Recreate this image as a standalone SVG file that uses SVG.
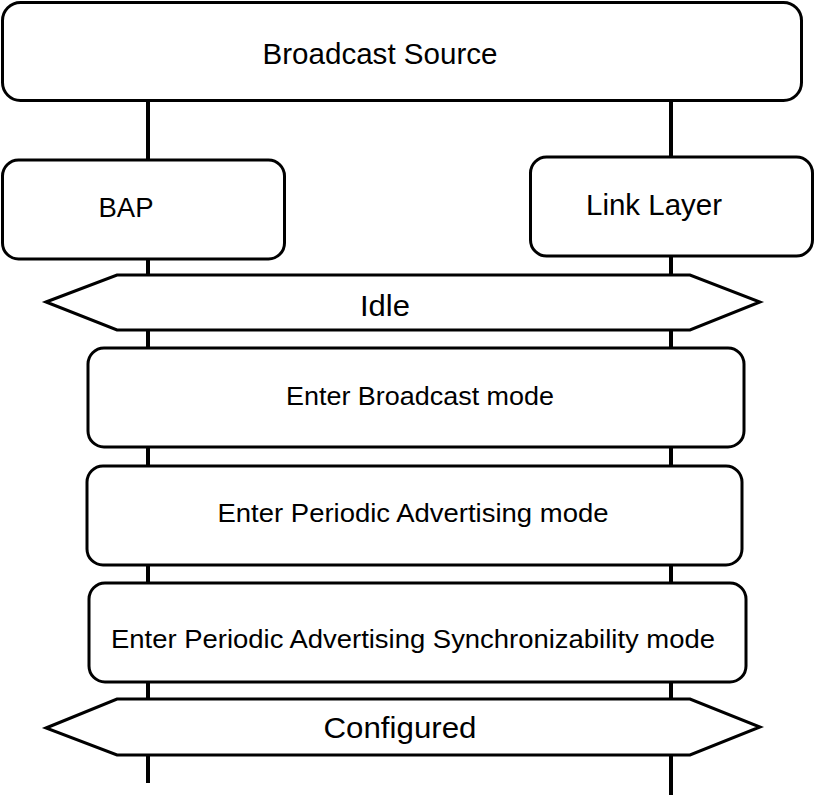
<svg xmlns="http://www.w3.org/2000/svg" width="815" height="799" viewBox="0 0 815 799">
<style>
.box{fill:#fff;stroke:#000;stroke-width:3}
.life{stroke:#000;stroke-width:4;fill:none}
text{font-family:"Liberation Sans",Arial,sans-serif;fill:#000;text-anchor:middle}
</style>
<rect width="815" height="799" fill="#fff"/>
<g id="connectors">
<line class="life" x1="148" y1="100" x2="148" y2="783"/>
<line class="life" x1="671" y1="100" x2="671" y2="795"/>
</g>
<g id="broadcast-source">
<rect class="box" x="2.5" y="2.5" width="799" height="98" rx="18"/>
<text x="380" y="64" font-size="29" textLength="235" lengthAdjust="spacingAndGlyphs">Broadcast Source</text>
</g>
<g id="bap">
<rect class="box" x="2.5" y="160" width="282" height="99" rx="16"/>
<text x="126" y="217" font-size="28" textLength="55" lengthAdjust="spacingAndGlyphs">BAP</text>
</g>
<g id="link-layer">
<rect class="box" x="530.5" y="157" width="282" height="99" rx="16"/>
<text x="654" y="215" font-size="29" textLength="136" lengthAdjust="spacingAndGlyphs">Link Layer</text>
</g>
<g id="idle">
<polygon class="box" points="46,302 117,275 690,275 760,302 690,330 117,330"/>
<text x="385" y="316" font-size="30" textLength="50" lengthAdjust="spacingAndGlyphs">Idle</text>
</g>
<g id="enter-broadcast">
<rect class="box" x="88" y="348" width="656" height="99" rx="16"/>
<text x="420" y="405" font-size="25" textLength="268" lengthAdjust="spacingAndGlyphs">Enter Broadcast mode</text>
</g>
<g id="enter-pa">
<rect class="box" x="87" y="466" width="655" height="99" rx="16"/>
<text x="413" y="522" font-size="25" textLength="391" lengthAdjust="spacingAndGlyphs">Enter Periodic Advertising mode</text>
</g>
<g id="enter-pas">
<rect class="box" x="89" y="583" width="657" height="99" rx="16"/>
<text x="413" y="648" font-size="25" textLength="604" lengthAdjust="spacingAndGlyphs">Enter Periodic Advertising Synchronizability mode</text>
</g>
<g id="configured">
<polygon class="box" points="46,728 117,699 690,699 760,727 690,755 117,755"/>
<text x="400" y="738" font-size="29" textLength="153" lengthAdjust="spacingAndGlyphs">Configured</text>
</g>
</svg>
